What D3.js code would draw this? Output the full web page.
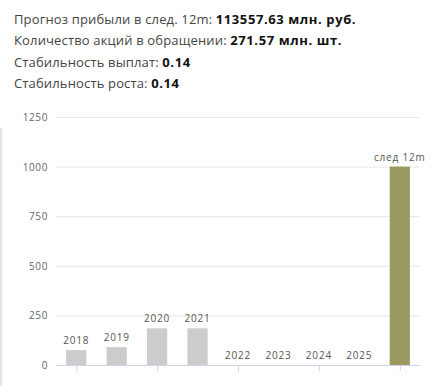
<!DOCTYPE html>
<html>
<head>
<meta charset="utf-8">
<script src="https://cdn.jsdelivr.net/npm/d3@7"></script>
<style>
  body { margin: 0; background: #fff; }
  svg { display: block; }
</style>
</head>
<body>
<svg width="444" height="386"></svg>
<script>
// данные графика
const categories = ['2018', '2019', '2020', '2021', '2022', '2023', '2024', '2025', 'след 12m'];
const values = [75, 90, 185, 185, 0, 0, 0, 0, 1000];
const yTicks = [0, 250, 500, 750, 1000, 1250];

// строки заголовка
const infoLabels = ['Прогноз прибыли в след. 12m: ', 'Количество акций в обращении: ', 'Стабильность выплат: ', 'Стабильность роста: '];
const infoValues = ['113557.63 млн. руб.', '271.57 млн. шт.', '0.14', '0.14'];

const svg = d3.select('svg');

const area = { left: 56, right: 420, top: 117, bottom: 365 };

// заголовок
const info = svg.append('g');
infoLabels.forEach((label, i) => {
    const t = info.append('text')
        .attr('x', 14)
        .attr('y', 24 + i * 21.3)
        .style('font-family', 'Open Sans')
        .style('font-size', '13px')
        .style('fill', '#444');
    t.append('tspan').text(label).style('letter-spacing', '0.15px');
    t.append('tspan').text(infoValues[i])
        .style('font-weight', 'bold')
        .style('letter-spacing', '0.6px')
        .style('fill', '#111');
});

// слева бледная вертикальная полоса
svg.append('line')
    .attr('x1', 1).attr('x2', 1).attr('y1', 128).attr('y2', 386)
    .style('stroke', '#e4e4e4').style('stroke-width', 2);

const scaleX = d3.scaleBand()
    .domain(categories)
    .range([area.left, area.right])
    .paddingInner(0.5)
    .paddingOuter(0.25);

const scaleY = d3.scaleLinear()
    .domain([0, 1250])
    .range([area.bottom, area.top]);

// сетка
svg.append('g')
    .selectAll('line')
    .data(yTicks.slice(1))
    .enter()
    .append('line')
    .attr('x1', area.left)
    .attr('x2', area.right)
    .attr('y1', d => scaleY(d) + 0.5)
    .attr('y2', d => scaleY(d) + 0.5)
    .style('stroke', '#e6e6e6');

// подписи оси Y
svg.append('g')
    .selectAll('text')
    .data(yTicks)
    .enter()
    .append('text')
    .attr('x', 48)
    .attr('y', d => scaleY(d) + 4)
    .attr('text-anchor', 'end')
    .style('font-family', 'Open Sans')
    .style('font-size', '10px')
    .style('letter-spacing', '0.6px')
    .style('fill', '#666')
    .text(d => d);

// столбцы
svg.append('g')
    .selectAll('rect')
    .data(values)
    .enter()
    .append('rect')
    .attr('x', (d, i) => scaleX(categories[i]))
    .attr('width', scaleX.bandwidth())
    .attr('y', d => scaleY(d))
    .attr('height', d => area.bottom - scaleY(d))
    .style('fill', (d, i) => i === categories.length - 1 ? '#999960' : '#cccccc');

// подписи над столбцами
svg.append('g')
    .selectAll('text')
    .data(values)
    .enter()
    .append('text')
    .attr('x', (d, i) => scaleX(categories[i]) + scaleX.bandwidth() / 2)
    .attr('y', d => scaleY(d) - 6)
    .attr('text-anchor', 'middle')
    .style('font-family', 'Open Sans')
    .style('font-size', '10px')
    .style('letter-spacing', '0.8px')
    .style('fill', '#555')
    .text((d, i) => categories[i]);

// ось X
svg.append('line')
    .attr('x1', area.left).attr('x2', area.right)
    .attr('y1', area.bottom + 0.5).attr('y2', area.bottom + 0.5)
    .style('stroke', '#ccd6eb');

svg.append('g')
    .selectAll('line')
    .data(categories.filter((d, i) => i % 2 === 0))
    .enter()
    .append('line')
    .attr('x1', d => scaleX(d) + scaleX.bandwidth() / 2 + 0.5)
    .attr('x2', d => scaleX(d) + scaleX.bandwidth() / 2 + 0.5)
    .attr('y1', area.bottom)
    .attr('y2', area.bottom + 6)
    .style('stroke', '#ccd6eb');
</script>
</body>
</html>
